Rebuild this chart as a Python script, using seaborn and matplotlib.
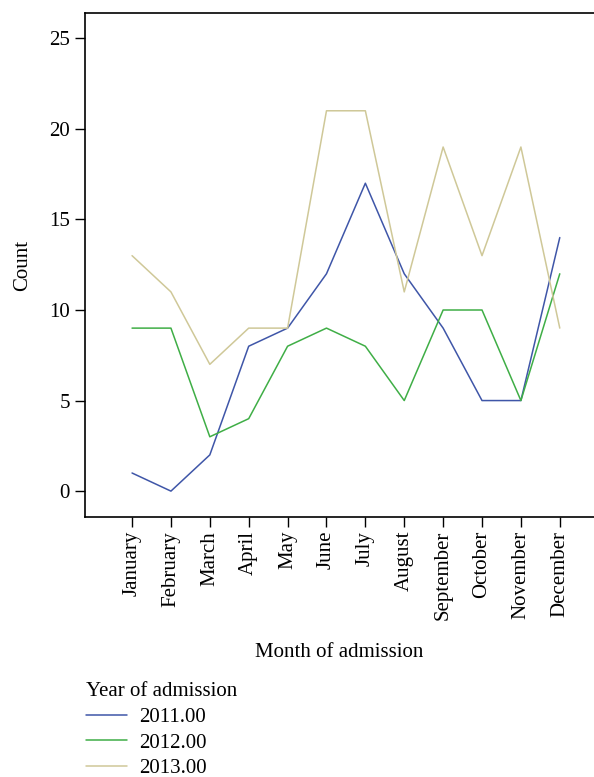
import pandas as pd
import seaborn as sns
import numpy as np
import matplotlib.pyplot as plt

months = ['January', 'February', 'March', 'April', 'May', 'June', 'July',
          'August', 'September', 'October', 'November', 'December']
count_2011 = [1, 0, 2, 8, 9, 12, 17, 12, 9, 5, 5, 14]
count_2012 = [9, 9, 3, 4, 8, 9, 8, 5, 10, 10, 5, 12]
count_2013 = [13, 11, 7, 9, 9, 21, 21, 11, 19, 13, 19, 9]
years = ['2011.00', '2012.00', '2013.00']
colors = ['#3f56a8', '#3fae46', '#cfc898']

rows = []
for yr, vals in zip(years, [count_2011, count_2012, count_2013]):
    for i, v in enumerate(vals):
        rows.append({'month': i, 'count': v, 'year': yr})
df = pd.DataFrame(rows)

sns.set_style('ticks')
plt.rcParams['font.family'] = ['Liberation Serif', 'DejaVu Serif']
plt.rcParams['text.color'] = 'black'
plt.rcParams['axes.labelcolor'] = 'black'
plt.rcParams['xtick.color'] = 'black'
plt.rcParams['ytick.color'] = 'black'

fs = 15
fig = plt.figure(figsize=(5.94, 7.77), dpi=100)
ax = fig.add_axes([0.1431, 0.3346, 0.8569, 0.6487])
sns.lineplot(data=df, x='month', y='count', hue='year', palette=colors,
             linewidth=1.1, ax=ax, legend=False)

ax.set_xlim(-1.21, 11.88)
ax.set_ylim(-1.43, 26.4)
ax.set_xticks(range(len(months)))
ax.set_xticklabels(months, rotation=90, fontsize=fs)
ax.set_yticks([0, 5, 10, 15, 20, 25])
ax.tick_params(axis='y', labelsize=fs, length=7, width=1, pad=4)
ax.tick_params(axis='x', length=7, width=1, pad=3)
ax.set_xlabel('Month of admission', fontsize=fs, labelpad=16)
ax.set_ylabel('Count', fontsize=fs, labelpad=12)
for s in ['left', 'top', 'bottom']:
    ax.spines[s].set_linewidth(1.2)
    ax.spines[s].set_color('black')
ax.spines['right'].set_visible(False)

handles = [plt.Line2D([], [], color=c, linewidth=1.1) for c in colors]
fig.legend(handles, years, title='Year of admission', loc='upper left',
           bbox_to_anchor=(0.131, 0.133), frameon=False, fontsize=fs,
           title_fontsize=fs, handlelength=1.95, handletextpad=0.6,
           labelspacing=0.3, alignment='left', borderaxespad=0)

fig.savefig('out.png', dpi=100)
